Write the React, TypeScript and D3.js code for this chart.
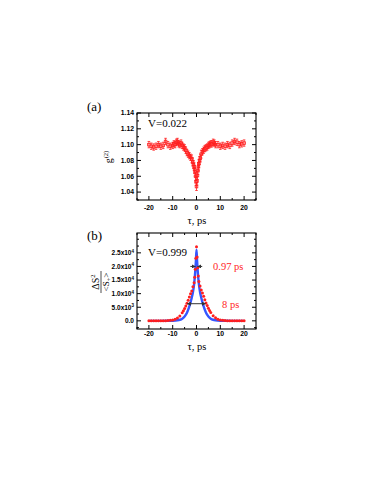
import * as d3 from 'd3';

// panel (a): g2 with error bars
const tauA = [-20, -19, -18, -17, -16, -15, -14, -13, -12, -11, -10, -9.5, -9, -8.5, -8, -7.5, -7, -6.5, -6, -5.5, -5, -4.5, -4, -3.5, -3, -2.5, -2, -1.6, -1.3, -1, -0.8, -0.6, -0.4, -0.2, 0, 0.2, 0.4, 0.6, 0.8, 1, 1.3, 1.6, 2, 2.5, 3, 3.5, 4, 4.5, 5, 5.5, 6, 6.5, 7, 7.5, 8, 9, 10, 11, 12, 13, 14, 15, 16, 17, 18, 19, 20];
const g2A = [1.100, 1.098, 1.097, 1.098, 1.100, 1.098, 1.099, 1.104, 1.100, 1.098, 1.099, 1.101, 1.100, 1.103, 1.104, 1.101, 1.100, 1.102, 1.099, 1.097, 1.096, 1.093, 1.090, 1.088, 1.086, 1.084, 1.082, 1.078, 1.075, 1.072, 1.069, 1.065, 1.060, 1.053, 1.047, 1.054, 1.061, 1.067, 1.072, 1.076, 1.080, 1.083, 1.088, 1.091, 1.093, 1.095, 1.096, 1.097, 1.099, 1.100, 1.101, 1.101, 1.103, 1.102, 1.100, 1.100, 1.098, 1.099, 1.098, 1.100, 1.099, 1.102, 1.104, 1.103, 1.100, 1.101, 1.102];
const errA = [0.004, 0.004, 0.004, 0.004, 0.004, 0.004, 0.004, 0.004, 0.004, 0.004, 0.004, 0.004, 0.004, 0.004, 0.004, 0.004, 0.004, 0.004, 0.004, 0.004, 0.004, 0.004, 0.004, 0.004, 0.004, 0.004, 0.005, 0.005, 0.005, 0.005, 0.005, 0.005, 0.005, 0.005, 0.005, 0.005, 0.005, 0.005, 0.005, 0.005, 0.005, 0.005, 0.005, 0.004, 0.004, 0.004, 0.004, 0.004, 0.004, 0.004, 0.004, 0.004, 0.004, 0.004, 0.004, 0.004, 0.004, 0.004, 0.004, 0.004, 0.004, 0.004, 0.004, 0.004, 0.004, 0.004, 0.004];

// panel (b): measured points (red) and fit (blue)
const tauB = [-20, -19, -18, -17, -16, -15, -14, -13, -12, -11, -10, -9, -8, -7, -6, -5.5, -5, -4.5, -4, -3.5, -3, -2.5, -2, -1.5, -1, -0.75, -0.5, -0.25, 0, 0.25, 0.5, 0.75, 1, 1.5, 2, 2.5, 3, 3.5, 4, 4.5, 5, 5.5, 6, 7, 8, 9, 10, 11, 12, 13, 14, 15, 16, 17, 18, 19, 20];
const redB = [0, 0, 0, 0, 0, 0, 0, 50, 100, 200, 300, 600, 1000, 1800, 3000, 3700, 4500, 5500, 6500, 7600, 8800, 10000, 11000, 12500, 14000, 16000, 19000, 23000, 27200, 23500, 19500, 16500, 14500, 12800, 11300, 10200, 9000, 7800, 6600, 5600, 4600, 3800, 3100, 1900, 1100, 600, 300, 200, 100, 50, 0, 0, 0, 0, 0, 0, 0];
const tauBlue = [-20, -15, -12, -10, -8, -7, -6, -5, -4, -3, -2.5, -2, -1.5, -1, -0.5, -0.25, 0, 0.25, 0.5, 1, 1.5, 2, 2.5, 3, 4, 5, 6, 7, 8, 10, 12, 15, 20];
const blueB = [0, 0, 20, 50, 200, 400, 800, 1600, 3000, 5300, 6800, 8500, 10500, 13500, 18500, 22000, 26200, 22000, 18500, 13500, 10500, 8500, 6800, 5300, 3000, 1600, 800, 400, 200, 50, 20, 0, 0];

const xTicks = [-20, -10, 0, 10, 20];
const xMinor = [-25, -15, -5, 5, 15, 25];
const yTicksA = [1.04, 1.06, 1.08, 1.1, 1.12, 1.14];
const yMinorA = [1.03, 1.05, 1.07, 1.09, 1.11, 1.13];
const yTicksB = [0, 5000, 10000, 15000, 20000, 25000];
const yLabelsB = [['0.0', ''], ['5.0x10', '3'], ['1.0x10', '4'], ['1.5x10', '4'], ['2.0x10', '4'], ['2.5x10', '4']];
const yMinorB = [-2500, 2500, 7500, 12500, 17500, 22500, 27500, 30000];

const RED = '#ff1e1e';
const BLUE = '#3556ff';
const SERIF = '"Liberation Serif", "DejaVu Serif", serif';
const SANS = '"Liberation Sans", Arial, sans-serif';

const left = 137;
const right = 256;

function Frame({ x, y, xt, xm, yt, ym }: any) {
  const [x0, x1] = x.range();
  const [y0, y1] = y.range();
  return (
    <g stroke="#000" fill="none">
      <rect x={x0} y={y1} width={x1 - x0} height={y0 - y1} strokeWidth={1.1} />
      {xt.map((t: number) => (
        <g key={'x' + t}>
          <line x1={x(t)} x2={x(t)} y1={y0} y2={y0 - 4} />
          <line x1={x(t)} x2={x(t)} y1={y1} y2={y1 + 4} />
        </g>
      ))}
      {xm.map((t: number) => (
        <g key={'xm' + t}>
          <line x1={x(t)} x2={x(t)} y1={y0} y2={y0 - 2} />
          <line x1={x(t)} x2={x(t)} y1={y1} y2={y1 + 2} />
        </g>
      ))}
      {yt.map((t: number) => (
        <g key={'y' + t}>
          <line x1={x0} x2={x0 + 4} y1={y(t)} y2={y(t)} />
          <line x1={x1} x2={x1 - 4} y1={y(t)} y2={y(t)} />
        </g>
      ))}
      {ym.map((t: number) => (
        <g key={'ym' + t}>
          <line x1={x0} x2={x0 + 2} y1={y(t)} y2={y(t)} />
          <line x1={x1} x2={x1 - 2} y1={y(t)} y2={y(t)} />
        </g>
      ))}
    </g>
  );
}

export default function App() {
  const xA = d3.scaleLinear().domain([-25, 25]).range([left, right]);
  const yA = d3.scaleLinear().domain([1.03, 1.14]).range([200, 113]);
  const xB = d3.scaleLinear().domain([-25, 25]).range([left, right]);
  const yB = d3.scaleLinear().domain([-3000, 32300]).range([329, 233]);

  const blueLine = d3
    .line<number>()
    .x((_, i) => xB(tauBlue[i]))
    .y((d) => yB(d))
    .curve(d3.curveMonotoneX);

  return (
    <svg width={374} height={484} style={{ position: 'absolute', left: 0, top: 0, background: '#fff' }}>
      {/* panel (a) */}
      <text x={87} y={111} fontFamily={SERIF} fontSize={13}>(a)</text>
      <g stroke={RED} strokeWidth={0.8} fill="none">
        {tauA.map((t, i) => {
          const cx = xA(t);
          const top = yA(g2A[i] + errA[i]);
          const bot = yA(g2A[i] - errA[i]);
          return (
            <g key={i}>
              <line x1={cx} x2={cx} y1={top} y2={bot} />
              <line x1={cx - 1.3} x2={cx + 1.3} y1={top} y2={top} />
              <line x1={cx - 1.3} x2={cx + 1.3} y1={bot} y2={bot} />
              <rect x={cx - 1.3} y={yA(g2A[i]) - 1.3} width={2.6} height={2.6} />
            </g>
          );
        })}
      </g>
      <Frame x={xA} y={yA} xt={xTicks} xm={xMinor} yt={yTicksA} ym={yMinorA} />
      {yTicksA.map((t) => (
        <text key={t} x={left - 3} y={yA(t) + 2.4} textAnchor="end" fontFamily={SANS} fontWeight="bold" fontSize={6.8}>
          {t.toFixed(2)}
        </text>
      ))}
      {xTicks.map((t) => (
        <text key={t} x={xA(t)} y={210} textAnchor="middle" fontFamily={SANS} fontWeight="bold" fontSize={6.8}>
          {t}
        </text>
      ))}
      <text x={148} y={127} fontFamily={SERIF} fontSize={11}>V=0.022</text>
      <text x={197} y={224} textAnchor="middle" fontFamily={SERIF} fontSize={10.5}>τ, ps</text>
      <text transform="translate(112,157) rotate(-90)" textAnchor="middle" fontFamily={SERIF} fontSize={10}>
        g<tspan dy={-4} fontSize={6.5}>(2)</tspan>
      </text>

      {/* panel (b) */}
      <text x={87} y={240} fontFamily={SERIF} fontSize={13}>(b)</text>
      <path d={blueLine(blueB) ?? ''} fill="none" stroke={BLUE} strokeWidth={2.4} />
      <g fill={RED}>
        {tauB.map((t, i) => (
          <circle key={i} cx={xB(t)} cy={yB(redB[i])} r={1.5} />
        ))}
      </g>
      <Frame x={xB} y={yB} xt={xTicks} xm={xMinor} yt={yTicksB} ym={yMinorB} />
      {yTicksB.map((t, i) => (
        <text key={t} x={left - 3} y={yB(t) + 2.4} textAnchor="end" fontFamily={SANS} fontWeight="bold" fontSize={6.5}>
          {yLabelsB[i][0]}
          {yLabelsB[i][1] && (
            <tspan dy={-2.5} fontSize={4.5}>{yLabelsB[i][1]}</tspan>
          )}
        </text>
      ))}
      {xTicks.map((t) => (
        <text key={t} x={xB(t)} y={336} textAnchor="middle" fontFamily={SANS} fontWeight="bold" fontSize={6.8}>
          {t}
        </text>
      ))}
      <text x={148} y={256} fontFamily={SERIF} fontSize={11}>V=0.999</text>
      <text x={197} y={350} textAnchor="middle" fontFamily={SERIF} fontSize={10.5}>τ, ps</text>
      <g transform="translate(101,282) rotate(-90)" fontFamily={SERIF}>
        <text x={0} y={-2} textAnchor="middle" fontSize={10}>
          ΔS<tspan dy={-4} fontSize={6.5}>2</tspan>
        </text>
        <line x1={-11} x2={11} y1={0} y2={0} stroke="#000" strokeWidth={0.7} />
        <text x={0} y={8} textAnchor="middle" fontSize={9}>
          &lt;S<tspan dy={2} fontSize={6.5}>+</tspan><tspan dy={-2}>&gt;</tspan>
        </text>
      </g>

      {/* width annotations */}
      <defs>
        <marker id="ah" viewBox="0 0 6 6" refX={5.5} refY={3} markerWidth={4} markerHeight={4} orient="auto">
          <path d="M0,0 L6,3 L0,6 z" fill="#333" />
        </marker>
        <marker id="ahs" viewBox="0 0 6 6" refX={0.5} refY={3} markerWidth={4} markerHeight={4} orient="auto">
          <path d="M6,0 L0,3 L6,6 z" fill="#333" />
        </marker>
      </defs>
      <g stroke="#333" strokeWidth={1}>
        <line x1={xB(-2.6)} x2={xB(-0.45)} y1={yB(20000)} y2={yB(20000)} markerEnd="url(#ah)" />
        <line x1={xB(2.4)} x2={xB(0.45)} y1={yB(20000)} y2={yB(20000)} markerEnd="url(#ah)" />
        <line x1={xB(-3.9)} x2={xB(3.8)} y1={yB(6300)} y2={yB(6300)} markerStart="url(#ahs)" markerEnd="url(#ah)" />
      </g>
      <text x={213} y={270} fill={RED} fontFamily={SERIF} fontSize={10.5}>0.97 ps</text>
      <text x={222} y={308} fill={RED} fontFamily={SERIF} fontSize={10.5}>8 ps</text>
    </svg>
  );
}
